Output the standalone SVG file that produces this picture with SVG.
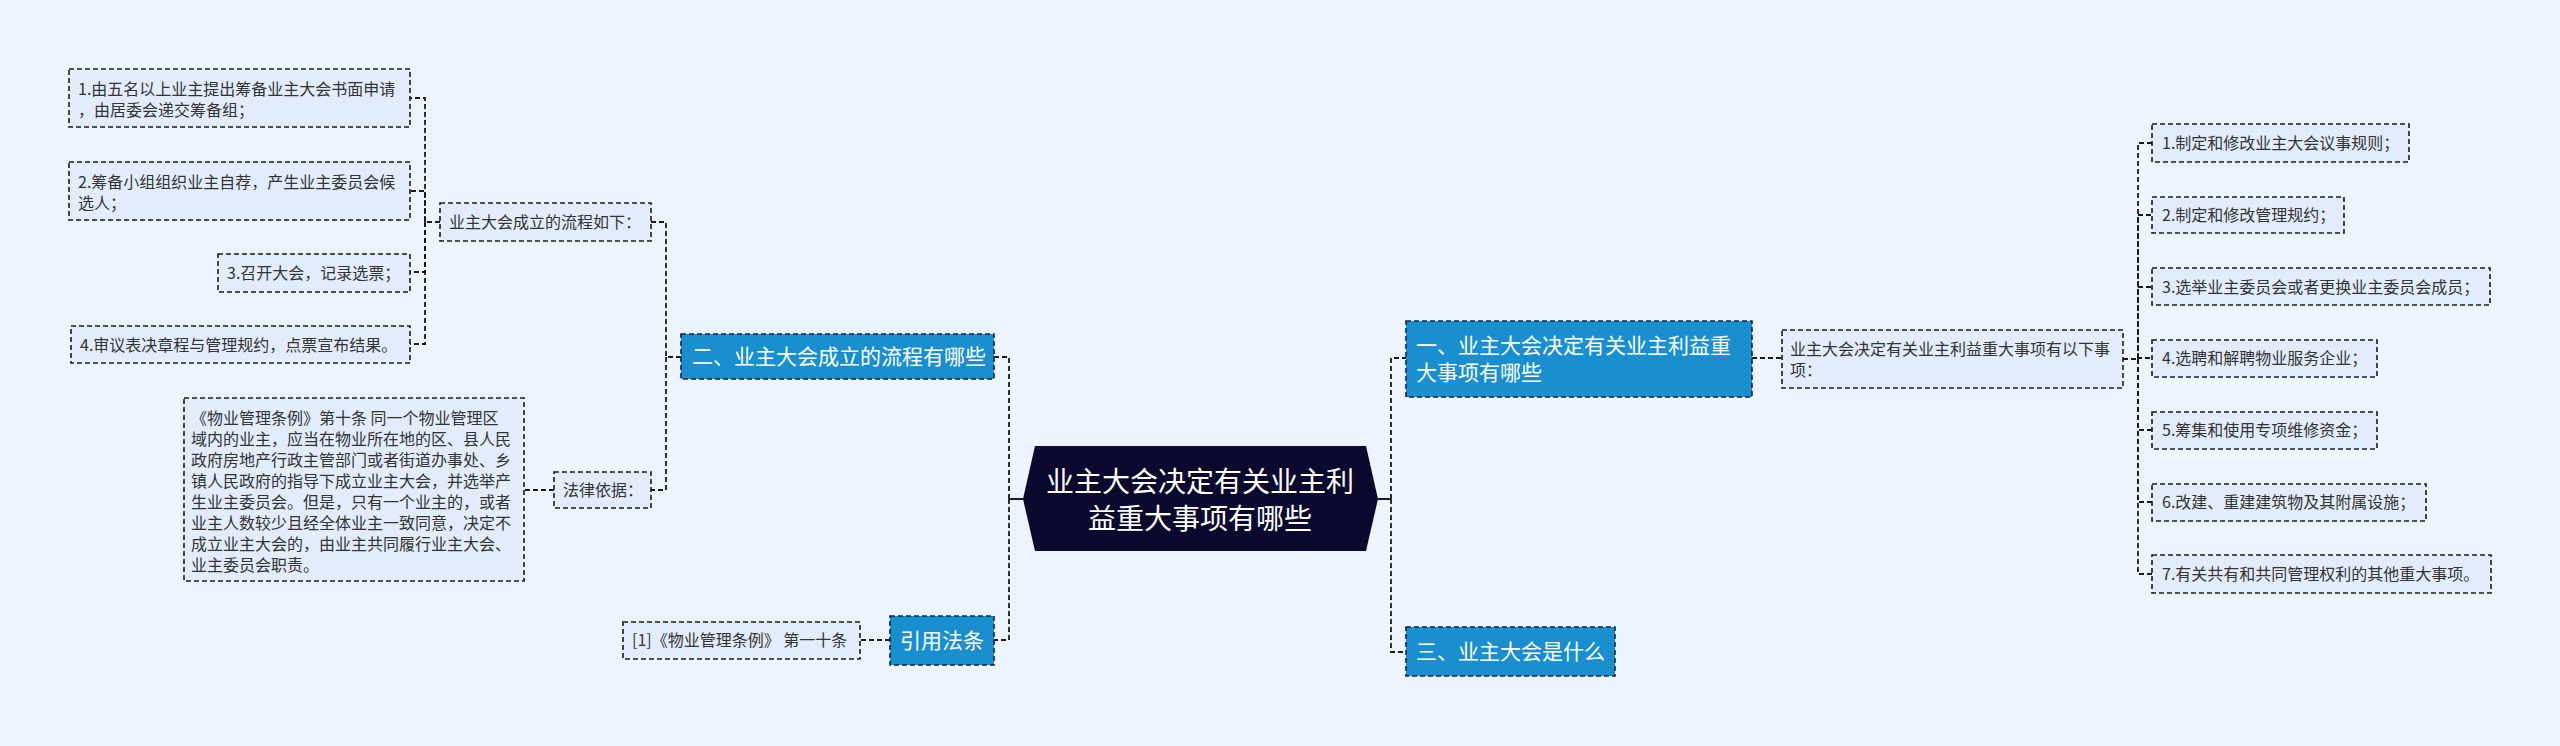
<svg xmlns="http://www.w3.org/2000/svg" width="2560" height="746" viewBox="0 0 2560 746">
<style>
.bg{fill:#eef4fd}
.leaf{fill:#e3ecfb;stroke:#1a1a1a;stroke-width:1.6;stroke-dasharray:5 3}
.main{fill:#1a8fd0;stroke:#12243a;stroke-width:1.6;stroke-dasharray:5 3}
.root{fill:#0b0a2e}
.t{font-family:"Noto Sans CJK SC","Noto Sans",sans-serif;font-size:16px;fill:#333}
.tm{font-family:"Noto Sans CJK SC","Noto Sans",sans-serif;font-size:21px;fill:#fff}
.tr{font-family:"Noto Sans CJK SC","Noto Sans",sans-serif;font-size:28px;fill:#fff;text-anchor:middle}
.c{fill:none;stroke:#1a1a1a;stroke-width:1.8;stroke-dasharray:5 3}
.cs{fill:none;stroke:#1a1a1a;stroke-width:2}
</style>
<rect class="bg" x="0" y="0" width="2560" height="746"/>
<g id="connectors">
<path class="cs" d="M1023,499 H1009"/>
<path class="c" d="M1009,499 V357 H994"/>
<path class="c" d="M1009,499 V640 H994"/>
<path class="c" d="M681,357 H666 V222 H651"/>
<path class="c" d="M666,357 V490 H651"/>
<path class="c" d="M554,490 H524"/>
<path class="c" d="M890,640 H860"/>
<path class="c" d="M440,222 H425 V98 H410"/>
<path class="c" d="M425,222 V191 H410"/>
<path class="c" d="M425,222 V272 H410"/>
<path class="c" d="M425,222 V344 H410"/>
<path class="cs" d="M1378,499 H1391"/>
<path class="c" d="M1391,499 V358 H1406"/>
<path class="c" d="M1391,499 V652 H1406"/>
<path class="c" d="M1752,358 H1782"/>
<path class="c" d="M2123,359 H2138 V143 H2152"/>
<path class="c" d="M2138,359 V215 H2152"/>
<path class="c" d="M2138,359 V287 H2152"/>
<path class="c" d="M2138,359 V358 H2152"/>
<path class="c" d="M2138,359 V430 H2152"/>
<path class="c" d="M2138,359 V502 H2152"/>
<path class="c" d="M2138,359 V574 H2152"/>
</g>
<g id="root">
<polygon class="root" points="1023,499 1035,446 1366,446 1378,499 1366,551 1035,551"/>
<text class="tr" x="1200" y="492">业主大会决定有关业主利</text>
<text class="tr" x="1200" y="529">益重大事项有哪些</text>
</g>
<g id="n2">
<rect class="main" x="681" y="334" width="313" height="45"/>
<text class="tm" x="692" y="364">二、业主大会成立的流程有哪些</text>
</g>
<g id="n2-process">
<rect class="leaf" x="440" y="203" width="211" height="38"/>
<text class="t" x="449" y="228">业主大会成立的流程如下：</text>
</g>
<g id="n2-step1">
<rect class="leaf" x="69" y="69" width="341" height="58"/>
<text class="t" x="78" y="95">1.由五名以上业主提出筹备业主大会书面申请</text>
<text class="t" x="78" y="116">，由居委会递交筹备组；</text>
</g>
<g id="n2-step2">
<rect class="leaf" x="69" y="162" width="341" height="58"/>
<text class="t" x="78" y="188">2.筹备小组组织业主自荐，产生业主委员会候</text>
<text class="t" x="78" y="209">选人；</text>
</g>
<g id="n2-step3">
<rect class="leaf" x="218" y="254" width="192" height="38"/>
<text class="t" x="227" y="279">3.召开大会，记录选票；</text>
</g>
<g id="n2-step4">
<rect class="leaf" x="71" y="326" width="339" height="37"/>
<text class="t" x="80" y="351">4.审议表决章程与管理规约，点票宣布结果。</text>
</g>
<g id="n2-law">
<rect class="leaf" x="554" y="472" width="97" height="36"/>
<text class="t" x="563" y="496">法律依据：</text>
</g>
<g id="n2-law-text">
<rect class="leaf" x="184" y="398" width="340" height="183"/>
<text class="t" x="191" y="424">《物业管理条例》第十条 同一个物业管理区</text>
<text class="t" x="191" y="445">域内的业主，应当在物业所在地的区、县人民</text>
<text class="t" x="191" y="466">政府房地产行政主管部门或者街道办事处、乡</text>
<text class="t" x="191" y="487">镇人民政府的指导下成立业主大会，并选举产</text>
<text class="t" x="191" y="508">生业主委员会。但是，只有一个业主的，或者</text>
<text class="t" x="191" y="529">业主人数较少且经全体业主一致同意，决定不</text>
<text class="t" x="191" y="550">成立业主大会的，由业主共同履行业主大会、</text>
<text class="t" x="191" y="571">业主委员会职责。</text>
</g>
<g id="n-cite">
<rect class="main" x="890" y="616" width="104" height="49"/>
<text class="tm" x="900" y="648">引用法条</text>
</g>
<g id="n-cite-1">
<rect class="leaf" x="623" y="622" width="237" height="37"/>
<text class="t" x="632" y="646">[1]《物业管理条例》 第一十条</text>
</g>
<g id="n1">
<rect class="main" x="1406" y="321" width="346" height="76"/>
<text class="tm" x="1416" y="353">一、业主大会决定有关业主利益重</text>
<text class="tm" x="1416" y="380">大事项有哪些</text>
</g>
<g id="n1-intro">
<rect class="leaf" x="1782" y="330" width="341" height="58"/>
<text class="t" x="1790" y="355">业主大会决定有关业主利益重大事项有以下事</text>
<text class="t" x="1790" y="376">项：</text>
</g>
<g id="n1-item1">
<rect class="leaf" x="2152" y="124" width="257" height="38"/>
<text class="t" x="2162" y="149">1.制定和修改业主大会议事规则；</text>
</g>
<g id="n1-item2">
<rect class="leaf" x="2152" y="197" width="192" height="36"/>
<text class="t" x="2162" y="221">2.制定和修改管理规约；</text>
</g>
<g id="n1-item3">
<rect class="leaf" x="2152" y="268" width="338" height="37"/>
<text class="t" x="2162" y="293">3.选举业主委员会或者更换业主委员会成员；</text>
</g>
<g id="n1-item4">
<rect class="leaf" x="2152" y="340" width="225" height="37"/>
<text class="t" x="2162" y="364">4.选聘和解聘物业服务企业；</text>
</g>
<g id="n1-item5">
<rect class="leaf" x="2152" y="412" width="225" height="37"/>
<text class="t" x="2162" y="436">5.筹集和使用专项维修资金；</text>
</g>
<g id="n1-item6">
<rect class="leaf" x="2152" y="484" width="274" height="37"/>
<text class="t" x="2162" y="508">6.改建、重建建筑物及其附属设施；</text>
</g>
<g id="n1-item7">
<rect class="leaf" x="2152" y="555" width="339" height="38"/>
<text class="t" x="2162" y="580">7.有关共有和共同管理权利的其他重大事项。</text>
</g>
<g id="n3">
<rect class="main" x="1406" y="627" width="209" height="49"/>
<text class="tm" x="1416" y="659">三、业主大会是什么</text>
</g>
</svg>
